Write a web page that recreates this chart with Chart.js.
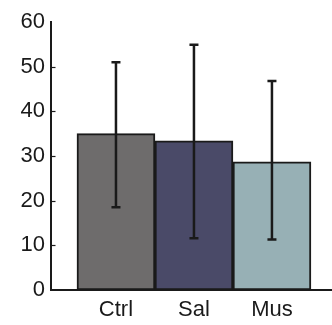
<!DOCTYPE html>
<html>
<head>
<meta charset="utf-8">
<script src="https://cdn.jsdelivr.net/npm/chart.js@4/dist/chart.umd.min.js"></script>
<style>
  html, body { margin: 0; padding: 0; background: #fff; }
  #wrap { width: 332px; height: 325px; }
</style>
</head>
<body>
<div id="wrap"><canvas id="chart"></canvas></div>
<script>
const groups = ['Ctrl', 'Sal', 'Mus'];
const means = [35, 33.4, 28.7];
const errLow = [18.5, 11.6, 11.3];
const errHigh = [51, 54.9, 46.8];
const barColors = ['#6e6c6c', '#4a4a68', '#97b0b5'];
const yTicks = [0, 10, 20, 30, 40, 50, 60];

const ink = '#1a1a1a';

// error bars, drawn through the scales
const errorBars = {
    id: 'errorBars',
    afterDatasetsDraw(chart) {
        const ctx = chart.ctx;
        const meta = chart.getDatasetMeta(0);
        const y = chart.scales.y;
        ctx.save();
        ctx.strokeStyle = ink;
        ctx.lineWidth = 2.5;
        meta.data.forEach((bar, i) => {
            const top = y.getPixelForValue(errHigh[i]);
            const bottom = y.getPixelForValue(errLow[i]);
            ctx.beginPath();
            ctx.moveTo(bar.x, top);
            ctx.lineTo(bar.x, bottom);
            ctx.moveTo(bar.x - 4.5, top);
            ctx.lineTo(bar.x + 4.5, top);
            ctx.moveTo(bar.x - 4.5, bottom);
            ctx.lineTo(bar.x + 4.5, bottom);
            ctx.stroke();
        });
        ctx.restore();
    }
};

// short inward tick marks on the y axis
const innerTicks = {
    id: 'innerTicks',
    afterDraw(chart) {
        const ctx = chart.ctx;
        const y = chart.scales.y;
        const left = chart.chartArea.left;
        ctx.save();
        ctx.strokeStyle = ink;
        ctx.lineWidth = 1.2;
        y.ticks.forEach((t, i) => {
            if (t.value === 0 || t.value === 60) return;
            const py = Math.round(y.getPixelForTick(i)) + 0.5;
            ctx.beginPath();
            ctx.moveTo(left, py);
            ctx.lineTo(left + 4.5, py);
            ctx.stroke();
        });
        ctx.restore();
    }
};

new Chart(document.getElementById('chart'), {
    type: 'bar',
    data: {
        datasets: [{
            data: groups.map((g, i) => ({ x: i + 1, y: means[i] })),
            backgroundColor: barColors,
            borderColor: ink,
            borderWidth: 2,
            borderSkipped: false,
            barPercentage: 1,
            categoryPercentage: 1
        }]
    },
    options: {
        responsive: true,
        maintainAspectRatio: false,
        animation: false,
        layout: { padding: { top: 22, right: 0, left: 0, bottom: 0 } },
        plugins: {
            legend: { display: false },
            tooltip: { enabled: false }
        },
        scales: {
            x: {
                type: 'linear',
                offset: false,
                min: 0.167,
                max: 3.77,
                afterBuildTicks: scale => {
                    scale.ticks = groups.map((g, i) => ({ value: i + 1 }));
                },
                afterFit: scale => { scale.height = 35; },
                grid: { display: false, drawTicks: false },
                border: { display: true, color: ink, width: 2 },
                ticks: {
                    color: ink,
                    padding: 7,
                    font: { family: "'Liberation Sans', Arial, sans-serif", size: 22 },
                    callback: v => groups[v - 1] || ''
                }
            },
            y: {
                min: 0,
                max: 60,
                afterBuildTicks: scale => {
                    scale.ticks = yTicks.map(v => ({ value: v }));
                },
                afterFit: scale => { scale.width = 51; },
                grid: { display: false, drawTicks: false },
                border: { display: true, color: ink, width: 2 },
                ticks: {
                    color: ink,
                    padding: 6,
                    font: { family: "'Liberation Sans', Arial, sans-serif", size: 22 }
                }
            }
        }
    },
    plugins: [errorBars, innerTicks]
});
</script>
</body>
</html>
